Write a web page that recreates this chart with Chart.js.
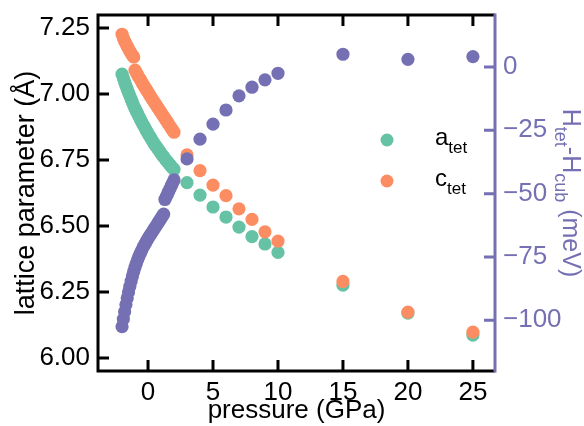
<!DOCTYPE html>
<html>
<head>
<meta charset="utf-8">
<script src="https://cdn.jsdelivr.net/npm/chart.js@4"></script>
<style>
  html, body { margin: 0; padding: 0; background: #fff; }
  canvas { display: block; }
</style>
</head>
<body>
<canvas id="grafica" width="584" height="426"></canvas>
<script>
// pressure in GPa (dense scan from -2 to 2, then coarse points)
const pressure = [-2.0, -1.9, -1.8, -1.7, -1.6, -1.5, -1.4, -1.3, -1.2, -1.1, -1.0, -0.9, -0.8, -0.7, -0.6, -0.5, -0.4, -0.3, -0.2, -0.1,
  0.0, 0.1, 0.2, 0.3, 0.4, 0.5, 0.6, 0.7, 0.8, 0.9, 1.0, 1.1, 1.2, 1.3, 1.4, 1.5, 1.6, 1.7, 1.8, 1.9, 2.0,
  3, 4, 5, 6, 7, 8, 9, 10, 15, 20, 25];

// lattice parameters (Å)
const aTet = [7.075, 7.060, 7.045, 7.031, 7.018, 7.005, 6.993, 6.980, 6.968, 6.956, 6.945, 6.935, 6.925, 6.915, 6.905, 6.895, 6.886, 6.877, 6.868, 6.859,
  6.850, 6.842, 6.834, 6.826, 6.818, 6.810, 6.803, 6.796, 6.789, 6.782, 6.775, 6.768, 6.762, 6.755, 6.749, 6.743, 6.737, 6.731, 6.725, 6.719, 6.714,
  6.664, 6.617, 6.572, 6.534, 6.496, 6.460, 6.432, 6.400, 6.276, 6.170, 6.087];
const cTet = [7.226, 7.212, 7.200, 7.190, 7.180, 7.171, 7.162, 7.154, 7.146, 7.140, 7.090, 7.081, 7.072, 7.063, 7.055, 7.046, 7.038, 7.030, 7.022, 7.014,
  7.006, 6.998, 6.990, 6.982, 6.975, 6.967, 6.960, 6.952, 6.945, 6.937, 6.930, 6.922, 6.915, 6.907, 6.900, 6.892, 6.885, 6.877, 6.870, 6.862, 6.855,
  6.769, 6.710, 6.655, 6.615, 6.565, 6.525, 6.478, 6.443, 6.290, 6.174, 6.098];

// enthalpy difference H_tet - H_cub (meV)
const dH = [-102.5, -99.5, -96.6, -93.8, -91.2, -88.8, -86.6, -84.5, -82.5, -80.7, -79.0, -77.5, -76.1, -74.8, -73.6, -72.5, -71.4, -70.4, -69.5, -68.6,
  -67.7, -66.9, -66.1, -65.3, -64.5, -63.7, -62.9, -62.1, -61.3, -60.5, -59.7, -58.9, -58.1, -52.3, -51.2, -50.1, -49, -47.9, -46.8, -45.7, -44.6,
  -36.3, -28.5, -22.6, -17.0, -11.4, -8.0, -5.1, -2.5, 5.0, 3.0, 4.1];

const xTicks = [0, 5, 10, 15, 20, 25];
const leftTicks = [6.00, 6.25, 6.50, 6.75, 7.00, 7.25];
const rightTicks = [-100, -75, -50, -25, 0];

const VERDE = "#66c2a5";
const NARANJA = "#fc8d62";
const MORADO = "#7570b3";
const FUENTE = "'Liberation Sans', Arial, sans-serif";

const puntos = ys => pressure.map((p, i) => ({ x: p, y: ys[i] }));

// texto con subindices: partes = [[texto, esSub], ...]
function textoRico(ctx, partes, x, y, size, alinear) {
  const sub = Math.round(size * 0.72);
  let total = 0;
  partes.forEach(([t, s]) => {
    ctx.font = (s ? sub : size) + "px " + FUENTE;
    total += ctx.measureText(t).width;
  });
  let cx = alinear === "center" ? x - total / 2 : x;
  ctx.textAlign = "left";
  ctx.textBaseline = "alphabetic";
  partes.forEach(([t, s]) => {
    ctx.font = (s ? sub : size) + "px " + FUENTE;
    ctx.fillText(t, cx, s ? y + size * 0.33 : y);
    cx += ctx.measureText(t).width;
  });
}

// quita el relleno extra que Chart.js deja para las etiquetas
const sinRelleno = s => { s.paddingTop = 0; s.paddingBottom = 0; s.paddingLeft = 0; s.paddingRight = 0; };

const decor = {
  id: "decor",
  afterDraw(chart) {
    const { ctx, chartArea: ca, scales } = chart;
    ctx.save();
    ctx.lineWidth = 3;
    ctx.lineCap = "butt";

    // marco negro
    ctx.strokeStyle = "#000";
    ctx.beginPath();
    ctx.moveTo(ca.right, ca.top); ctx.lineTo(ca.left, ca.top);
    ctx.lineTo(ca.left, ca.bottom); ctx.lineTo(ca.right, ca.bottom);
    ctx.stroke();

    // ticks hacia dentro
    ctx.beginPath();
    xTicks.forEach(v => {
      const px = scales.x.getPixelForValue(v);
      ctx.moveTo(px, ca.bottom); ctx.lineTo(px, ca.bottom - 11);
      ctx.moveTo(px, ca.top); ctx.lineTo(px, ca.top + 11);
    });
    leftTicks.forEach(v => {
      const py = scales.y.getPixelForValue(v);
      ctx.moveTo(ca.left, py); ctx.lineTo(ca.left + 11, py);
    });
    ctx.stroke();

    // eje derecho morado
    ctx.strokeStyle = MORADO;
    ctx.beginPath();
    ctx.moveTo(ca.right, ca.top - 1.5); ctx.lineTo(ca.right, ca.bottom + 1.5);
    rightTicks.forEach(v => {
      const py = scales.y2.getPixelForValue(v);
      ctx.moveTo(ca.right, py); ctx.lineTo(ca.right - 11, py);
    });
    ctx.stroke();

    // titulos de ejes
    const cy = (ca.top + ca.bottom) / 2;
    ctx.fillStyle = "#000";
    ctx.font = "26px " + FUENTE;
    ctx.textAlign = "center";
    ctx.textBaseline = "alphabetic";
    ctx.fillText("pressure (GPa)", (ca.left + ca.right) / 2, 418);

    ctx.save();
    ctx.font = "27px " + FUENTE;
    ctx.translate(34, cy);
    ctx.rotate(-Math.PI / 2);
    ctx.fillText("lattice parameter (Å)", 0, 0);
    ctx.restore();

    ctx.save();
    ctx.fillStyle = MORADO;
    ctx.translate(563, cy);
    ctx.rotate(Math.PI / 2);
    textoRico(ctx, [["H", false], ["tet", true], ["-H", false], ["cub", true], [" (meV)", false]], 0, 0, 25, "center");
    ctx.restore();

    // leyenda
    [[VERDE, "a", 140], [NARANJA, "c", 181]].forEach(([col, letra, y]) => {
      ctx.fillStyle = col;
      ctx.beginPath();
      ctx.arc(387, y, 6.5, 0, Math.PI * 2);
      ctx.fill();
      ctx.fillStyle = "#000";
      textoRico(ctx, [[letra, false], ["tet", true]], 435, y + 5, 24, "left");
    });
    ctx.restore();
  }
};

new Chart(document.getElementById("grafica"), {
  type: "scatter",
  data: {
    datasets: [
      { label: "H", data: puntos(dH), yAxisID: "y2", backgroundColor: MORADO, order: 0 },
      { label: "c_tet", data: puntos(cTet), yAxisID: "y", backgroundColor: NARANJA, order: 1 },
      { label: "a_tet", data: puntos(aTet), yAxisID: "y", backgroundColor: VERDE, order: 2 }
    ]
  },
  options: {
    responsive: false,
    animation: false,
    devicePixelRatio: 1,
    layout: { padding: { top: 15, left: 0, right: 0, bottom: 0 } },
    elements: { point: { radius: 6.6, borderWidth: 0, hoverRadius: 6.6 } },
    plugins: { legend: { display: false }, tooltip: { enabled: false } },
    scales: {
      x: {
        type: "linear", position: "bottom", min: -3.85, max: 26.7,
        grid: { display: false, drawTicks: false }, border: { display: false },
        ticks: { color: "#000", font: { size: 26, family: FUENTE }, padding: 6 },
        afterBuildTicks: s => { s.ticks = xTicks.map(v => ({ value: v })); },
        afterFit: s => { s.height = 55; sinRelleno(s); }
      },
      y: {
        type: "linear", position: "left", min: 5.951, max: 7.299,
        grid: { display: false, drawTicks: false }, border: { display: false },
        ticks: { color: "#000", font: { size: 26, family: FUENTE }, padding: 8, callback: v => v.toFixed(2) },
        afterBuildTicks: s => { s.ticks = leftTicks.map(v => ({ value: v })); },
        afterFit: s => { s.width = 98; sinRelleno(s); }
      },
      y2: {
        type: "linear", position: "right", min: -120, max: 20.5,
        grid: { display: false, drawTicks: false }, border: { display: false },
        ticks: { color: MORADO, font: { size: 26, family: FUENTE }, padding: 8, callback: v => v < 0 ? "\u2212" + Math.abs(v) : String(v) },
        afterBuildTicks: s => { s.ticks = rightTicks.map(v => ({ value: v })); },
        afterFit: s => { s.width = 89; sinRelleno(s); }
      }
    }
  },
  plugins: [decor]
});
</script>
</body>
</html>
